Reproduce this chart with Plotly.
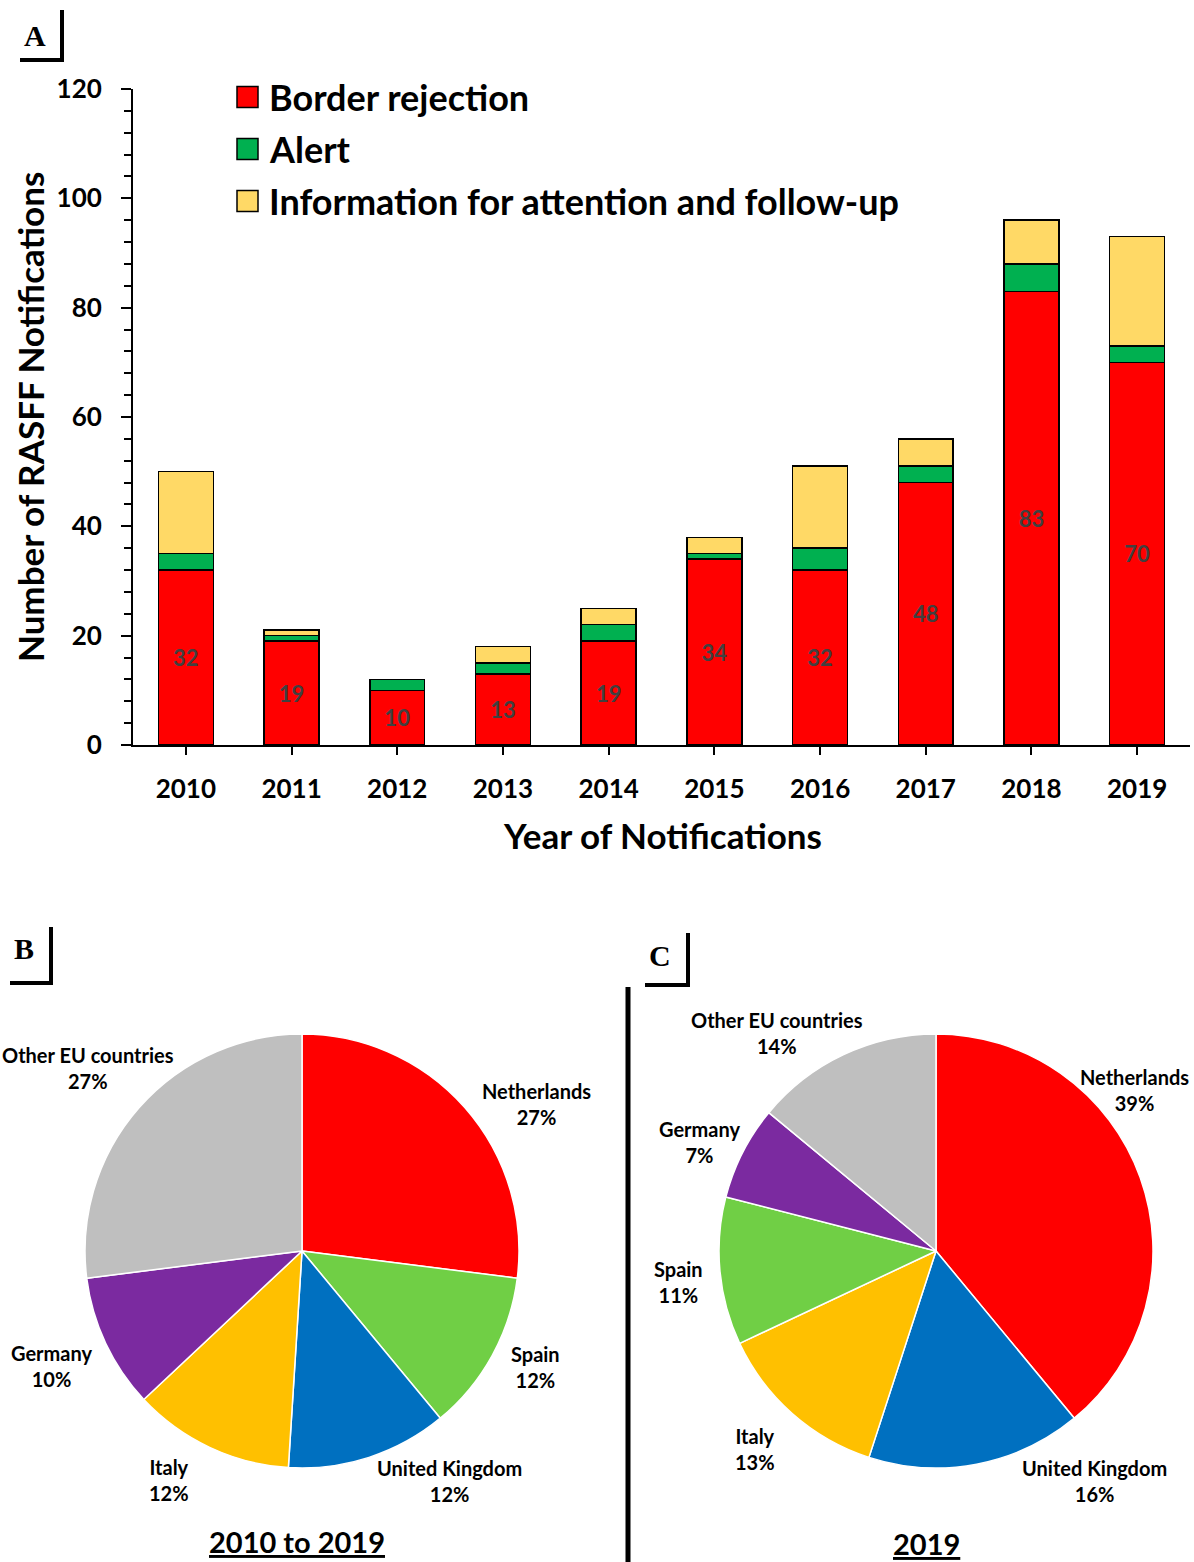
import plotly.graph_objects as go

# ---- data -------------------------------------------------------------
years = ["2010", "2011", "2012", "2013", "2014", "2015", "2016", "2017", "2018", "2019"]
border_rejection = [32, 19, 10, 13, 19, 34, 32, 48, 83, 70]
alert = [3, 1, 2, 2, 3, 1, 4, 3, 5, 3]
info_attention = [15, 1, 0, 3, 3, 3, 15, 5, 8, 20]

pie_all_labels = ["Netherlands", "Spain", "United Kingdom", "Italy", "Germany", "Other EU countries"]
pie_all_values = [27, 12, 12, 12, 10, 27]

pie_2019_labels = ["Netherlands", "United Kingdom", "Italy", "Spain", "Germany", "Other EU countries"]
pie_2019_values = [39, 16, 13, 11, 7, 14]

# ---- styling ----------------------------------------------------------
W, H = 1194, 1562
FONT = "Lato"
SERIF = "Liberation Serif"
bar_colors = {"Border rejection": "#FF0000", "Alert": "#00B050",
              "Information for attention and follow-up": "#FFD966"}
country_colors = {"Netherlands": "#FF0000", "Spain": "#70CF45", "United Kingdom": "#0070C0",
                  "Italy": "#FFC000", "Germany": "#7B2AA0", "Other EU countries": "#BFBFBF"}

# where each pie's slice labels sit (pixel centre of the two-line label)
pie_all_label_pos = {"Netherlands": (536, 1104), "Spain": (535, 1367), "United Kingdom": (449, 1481),
                     "Italy": (169, 1480), "Germany": (51, 1366), "Other EU countries": (88, 1068)}
pie_2019_label_pos = {"Netherlands": (1134, 1090), "United Kingdom": (1094, 1481), "Italy": (755, 1449),
                      "Spain": (678, 1282), "Germany": (700, 1142), "Other EU countries": (777, 1033)}


def px(x):
    return x / W


def py(y):
    return 1 - y / H


fig = go.Figure()

series = [("Border rejection", border_rejection),
          ("Alert", alert),
          ("Information for attention and follow-up", info_attention)]
for name, vals in series:
    fig.add_trace(go.Bar(
        x=years, y=vals, name=name,
        marker=dict(color=bar_colors[name], line=dict(color="black", width=1.5)),
        text=[str(v) for v in vals] if name == "Border rejection" else None,
        textposition="inside" if name == "Border rejection" else "none",
        insidetextanchor="middle",
        textangle=0,
        textfont=dict(family=FONT, size=22, color="#404040", weight="bold"),
        showlegend=False,
    ))

shapes = []
annotations = []


def add_pie(labels, values, cx, cy, r, label_pos):
    fig.add_trace(go.Pie(
        labels=labels, values=values, sort=False, direction="clockwise", rotation=0,
        marker=dict(colors=[country_colors[l] for l in labels], line=dict(color="white", width=1.5)),
        textinfo="none",
        domain=dict(x=[px(cx - r), px(cx + r)], y=[py(cy + r), py(cy - r)]),
        automargin=False,
        showlegend=False, hoverinfo="label+value",
    ))
    for lab, val in zip(labels, values):
        lx, ly = label_pos[lab]
        annotations.append(dict(x=px(lx), y=py(ly), xref="paper", yref="paper",
                                text=f"<b>{lab}</b><br><b>{val}%</b>", showarrow=False,
                                xanchor="center", yanchor="middle", align="center",
                                font=dict(family=FONT, size=20, color="black")))


add_pie(pie_all_labels, pie_all_values, 302, 1251, 217, pie_all_label_pos)
add_pie(pie_2019_labels, pie_2019_values, 936, 1251, 217, pie_2019_label_pos)

# legend drawn by hand so the swatches can be large
for i, (name, _) in enumerate(series):
    yc = 97 + 52 * i
    shapes.append(dict(type="rect", xref="paper", yref="paper",
                       x0=px(237), x1=px(258), y0=py(yc + 10.5), y1=py(yc - 10.5),
                       fillcolor=bar_colors[name], line=dict(color="black", width=1.5)))
    annotations.append(dict(x=px(267), y=py(yc), xref="paper", yref="paper",
                            text=f"<b>{name}</b>", showarrow=False, xanchor="left", yanchor="middle",
                            font=dict(family=FONT, size=36, color="black")))

# axis titles
annotations.append(dict(x=px(662), y=py(835), xref="paper", yref="paper",
                        text="<b>Year of Notifications</b>", showarrow=False,
                        xanchor="center", yanchor="middle",
                        font=dict(family=FONT, size=35, color="black")))
annotations.append(dict(x=px(30), y=py(417), xref="paper", yref="paper",
                        text="<b>Number of RASFF Notifications</b>", showarrow=False, textangle=-90,
                        xanchor="center", yanchor="middle",
                        font=dict(family=FONT, size=35, color="black")))

# pie captions
annotations.append(dict(x=px(297), y=py(1541), xref="paper", yref="paper",
                        text="<u><b>2010 to 2019</b></u>", showarrow=False,
                        xanchor="center", yanchor="middle",
                        font=dict(family=FONT, size=29, color="black")))
annotations.append(dict(x=px(926), y=py(1543), xref="paper", yref="paper",
                        text="<u><b>2019</b></u>", showarrow=False,
                        xanchor="center", yanchor="middle",
                        font=dict(family=FONT, size=29, color="black")))

# panel letters with corner brackets
for letter, lx, ly, vx, vy0, vy1, hx0 in [("A", 35, 35, 62, 10, 60, 20),
                                          ("B", 24, 949, 51, 927, 983, 10),
                                          ("C", 660, 955, 688, 933, 985, 645)]:
    annotations.append(dict(x=px(lx), y=py(ly), xref="paper", yref="paper",
                            text=f"<b>{letter}</b>", showarrow=False,
                            xanchor="center", yanchor="middle",
                            font=dict(family=SERIF, size=30, color="black")))
    shapes.append(dict(type="line", xref="paper", yref="paper",
                       x0=px(vx), x1=px(vx), y0=py(vy0), y1=py(vy1), line=dict(color="black", width=4)))
    shapes.append(dict(type="line", xref="paper", yref="paper",
                       x0=px(hx0), x1=px(vx + 2), y0=py(vy1), y1=py(vy1), line=dict(color="black", width=4)))

# separator between the two pies
shapes.append(dict(type="line", xref="paper", yref="paper",
                   x0=px(628), x1=px(628), y0=py(987), y1=py(H), line=dict(color="black", width=5)))

fig.update_layout(
    width=W, height=H,
    margin=dict(l=0, r=0, t=0, b=0, autoexpand=False),
    paper_bgcolor="white", plot_bgcolor="white",
    barmode="stack", bargap=0.48,
    font=dict(family=FONT, color="black"),
    shapes=shapes, annotations=annotations,
    xaxis=dict(domain=[px(133), px(1190)], type="category", automargin=False,
               showline=True, linecolor="black", linewidth=2,
               ticks="outside", ticklen=8, tickwidth=2, tickcolor="black",
               ticklabelstandoff=12,
               tickfont=dict(family=FONT, size=26, color="black", weight="bold"),
               showgrid=False, zeroline=False, fixedrange=True),
    yaxis=dict(domain=[py(745), py(89)], range=[0, 120], dtick=20, automargin=False,
               showline=True, linecolor="black", linewidth=2,
               ticks="outside", ticklen=10, tickwidth=2, tickcolor="black",
               ticklabelstandoff=14,
               minor=dict(dtick=4, ticks="outside", ticklen=7, tickwidth=1.5, tickcolor="black", showgrid=False),
               tickfont=dict(family=FONT, size=26, color="black", weight="bold"),
               showgrid=False, zeroline=False, fixedrange=True),
)

fig.write_html("out.html")
